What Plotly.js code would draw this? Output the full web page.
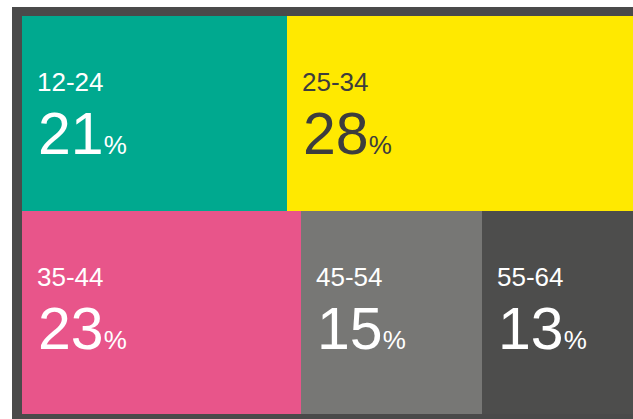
<!DOCTYPE html>
<html>
<head>
<meta charset="utf-8">
<script src="https://cdn.plot.ly/plotly-3.0.1.min.js"></script>
<style>
html,body{margin:0;padding:0;background:#fff;overflow:hidden;width:633px;height:419px;}
#chart{position:absolute;left:12px;top:7px;width:638px;height:412px;}
</style>
</head>
<body>
<div id="chart"></div>
<script>
// Data
const ageGroups = ['12-24', '25-34', '35-44', '45-54', '55-64'];
const shares = [21, 28, 23, 15, 13];
const rowOf = [0, 0, 1, 1, 1];   // which row each group sits in (0 = top)
const colors = ['#00A98F', '#FFE900', '#E8558A', '#777775', '#4D4D4C'];
const textColors = ['#ffffff', '#3d3d3d', '#ffffff', '#ffffff', '#ffffff'];

const total = shares.reduce((a, b) => a + b, 0);
const nRows = Math.max(...rowOf) + 1;
const rowSums = Array(nRows).fill(0);
shares.forEach((v, i) => rowSums[rowOf[i]] += v);

// row vertical extents (top row at top of y range [0,1])
const rowTop = [], rowBottom = [];
let acc = 1;
for (let r = 0; r < nRows; r++) {
  rowTop[r] = acc;
  acc -= rowSums[r] / total;
  rowBottom[r] = acc;
}

const traces = [];
const annotations = [];
const rowCum = Array(nRows).fill(0);
const FONT = '"Liberation Sans", Arial, sans-serif';
shares.forEach((v, i) => {
  const r = rowOf[i];
  const start = rowCum[r] / rowSums[r];
  const w = v / rowSums[r];
  rowCum[r] += v;
  traces.push({
    type: 'bar', orientation: 'h',
    x: [w], base: [start],
    y: [(rowTop[r] + rowBottom[r]) / 2],
    width: [rowTop[r] - rowBottom[r]],
    marker: {color: colors[i], line: {width: 0}},
    name: ageGroups[i], hoverinfo: 'skip', showlegend: false
  });
  annotations.push({
    x: start, y: rowTop[r], xref: 'x', yref: 'y',
    xanchor: 'left', yanchor: 'top', xshift: 13, yshift: -49,
    text: ageGroups[i], showarrow: false,
    font: {family: FONT, size: 26, color: textColors[i]}
  });
  annotations.push({
    x: start, y: rowTop[r], xref: 'x', yref: 'y',
    xanchor: 'left', yanchor: 'top', xshift: 14, yshift: -83,
    text: v + "<span style='font-size:26px'>%</span>", showarrow: false,
    font: {family: FONT, size: 59, color: textColors[i]}
  });
});

const layout = {
  width: 638, height: 412,
  margin: {l: 10, r: 10, t: 9, b: 5},
  paper_bgcolor: '#4A4A4A', plot_bgcolor: '#4A4A4A',
  barmode: 'overlay', bargap: 0,
  xaxis: {range: [0, 1], visible: false, fixedrange: true},
  yaxis: {range: [0, 1], visible: false, fixedrange: true},
  annotations: annotations,
  showlegend: false
};
Plotly.newPlot('chart', traces, layout, {displayModeBar: false, staticPlot: true});
</script>
</body>
</html>
